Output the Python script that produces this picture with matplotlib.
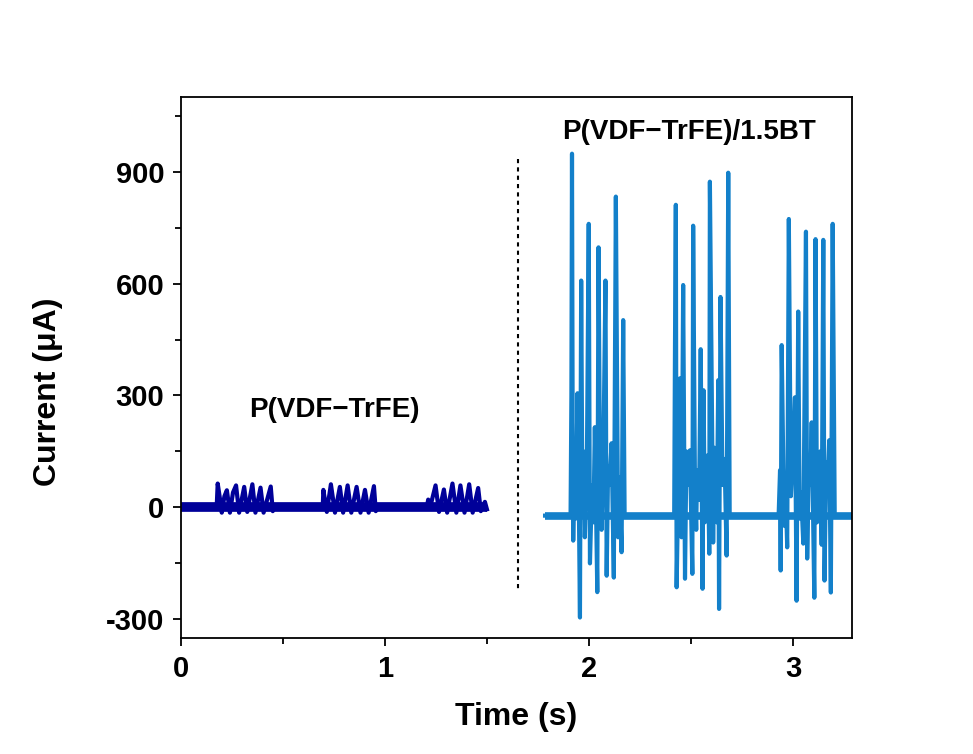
import numpy as np
import matplotlib.pyplot as plt
from matplotlib.ticker import MultipleLocator

plt.rcParams['font.family'] = ['Liberation Sans', 'DejaVu Sans']
plt.rcParams['font.weight'] = 'bold'
plt.rcParams['axes.unicode_minus'] = False

# P(VDF-TrFE) trace (time s, current uA)
pvdf_t = [0.0, 0.172, 0.175, 0.180, 0.192, 0.200, 0.213, 0.225, 0.240, 0.255, 0.270, 0.285,
          0.310, 0.325, 0.350, 0.365, 0.390, 0.405, 0.440, 0.450, 0.460,
          0.690, 0.695, 0.698, 0.715, 0.735, 0.755, 0.779, 0.795, 0.817, 0.835, 0.861,
          0.880, 0.902, 0.920, 0.946, 0.955, 0.965,
          1.200, 1.205, 1.212, 1.225, 1.248, 1.265, 1.289, 1.305, 1.331, 1.350, 1.370,
          1.390, 1.413, 1.430, 1.457, 1.470, 1.490, 1.500]
pvdf_i = [0, 0, 0, 64, 20, -14, 30, 46, -14, 40, 59, -14,
          55, -12, 62, -14, 53, -14, 56, -10, 0,
          0, 0, 47, -12, 62, -14, 55, -14, 59, -14, 55,
          -14, 47, -14, 57, -10, 0,
          0, 0, 21, 8, 59, -12, 48, -14, 64, -14, 59,
          -14, 62, -14, 52, -10, 15, -5]

# P(VDF-TrFE)/1.5BT trace
bt_t = [1.785, 1.910, 1.914, 1.917, 1.921, 1.923, 1.928, 1.935, 1.944, 1.950, 1.956, 1.962, 1.968,
        1.974, 1.980, 1.990, 1.999, 2.005, 2.015, 2.022, 2.029, 2.041, 2.047, 2.055, 2.062,
        2.070, 2.081, 2.087, 2.094, 2.100, 2.111, 2.122, 2.132, 2.143, 2.150, 2.160, 2.168, 2.175,
        2.418, 2.422, 2.426, 2.430, 2.438, 2.446, 2.454, 2.462, 2.471, 2.478, 2.485, 2.495,
        2.507, 2.511, 2.520, 2.526, 2.530, 2.540, 2.548, 2.557, 2.562, 2.568, 2.575, 2.583,
        2.590, 2.593, 2.609, 2.615, 2.620, 2.627, 2.634, 2.638, 2.645, 2.655, 2.665, 2.675,
        2.683, 2.690,
        2.930, 2.937, 2.940, 2.945, 2.953, 2.960, 2.965, 2.972, 2.980, 2.990, 3.000, 3.010,
        3.018, 3.026, 3.033, 3.040, 3.051, 3.064, 3.070, 3.078, 3.085, 3.092, 3.105, 3.111,
        3.118, 3.125, 3.133, 3.141, 3.149, 3.155, 3.163, 3.170, 3.178, 3.186, 3.195, 3.205, 3.300]
bt_i = [-22, -22, 300, 948, 50, -89, 80, -30, 306, 40, -295, 608, 20,
        150, -80, 120, 760, -150, 60, -40, 215, -227, 697, 30, -60,
        100, 608, -183, 110, 60, 172, -188, 833, -80, 80, -120, 502, -22,
        -22, 440, 811, -214, 60, 346, -80, 596, -191, 150, 60, 153,
        -178, 755, 40, -60, 100, 20, 424, -218, 314, -40, 50, 140,
        -124, 873, -94, 160, 80, -40, 341, -272, 564, 60, 130, -129,
        897, -22,
        -22, 100, -169, 435, 107, -50, 40, -107, 773, 30, 140, 295,
        -250, 525, -30, 40, -97, 739, -137, 130, 60, 228, -242, 719,
        -40, 50, 150, -100, 717, -196, 120, 60, 180, -228, 760, -22, -22]

c_pvdf = '#000099'
c_bt = '#1380CA'

fig = plt.figure(figsize=(9.73, 7.54), dpi=100)
ax = fig.add_axes([0.186, 0.1538, 0.6897, 0.7176])

ax.plot([pvdf_t[0], pvdf_t[-1]], [0, 0], color=c_pvdf, lw=7, solid_capstyle='butt')
ax.plot(pvdf_t, pvdf_i, color=c_pvdf, lw=3)
ax.plot([bt_t[0], bt_t[-1]], [bt_i[0], bt_i[-1]], color=c_bt, lw=5.5, solid_capstyle='butt')
ax.plot(bt_t, bt_i, color=c_bt, lw=3)

ax.plot([1.65, 1.65], [935, -225], color='black', lw=1.5, linestyle=(0, (2, 2)))

ax.text(0.75, 260, 'P(VDF\u2212TrFE)', fontsize=20, fontweight='bold', ha='center', va='center')
ax.text(2.49, 1007, 'P(VDF\u2212TrFE)/1.5BT', fontsize=20, fontweight='bold', ha='center', va='center')

ax.set_xlim(0, 3.29)
ax.set_ylim(-350, 1100)
ax.xaxis.set_major_locator(MultipleLocator(1))
ax.xaxis.set_minor_locator(MultipleLocator(0.5))
ax.yaxis.set_major_locator(MultipleLocator(300))
ax.yaxis.set_minor_locator(MultipleLocator(150))
ax.tick_params(which='major', direction='out', length=6, width=1.3, labelsize=21, pad=6)
ax.tick_params(which='minor', direction='out', length=4, width=1.3)
for lab in ax.get_xticklabels() + ax.get_yticklabels():
    lab.set_fontweight('bold')
for s in ax.spines.values():
    s.set_linewidth(1.3)

ax.set_xlabel('Time (s)', fontsize=23, fontweight='bold', labelpad=14)
ax.set_ylabel('Current (\u03bcA)', fontsize=23, fontweight='bold')
ax.yaxis.set_label_coords(-0.176, 0.455)

fig.savefig('out.png', dpi=100)
